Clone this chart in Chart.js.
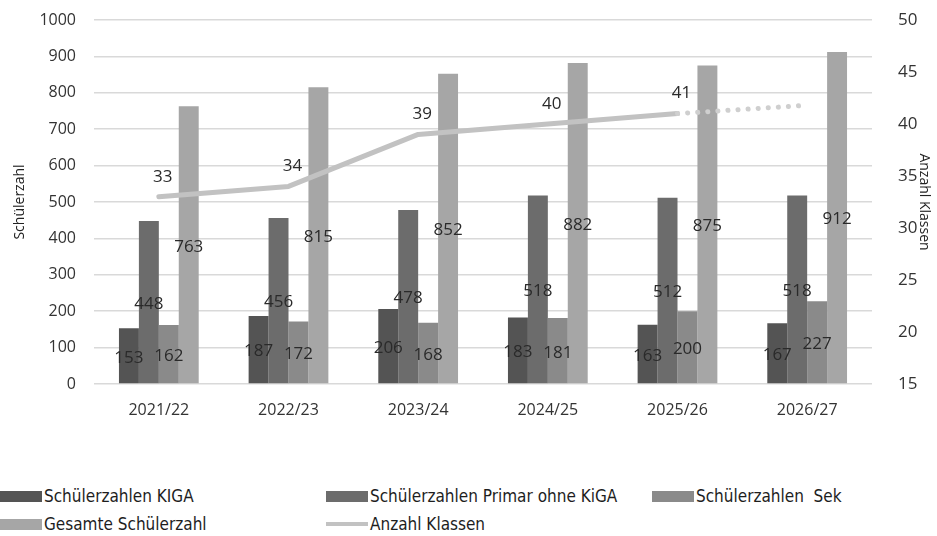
<!DOCTYPE html>
<html>
<head>
<meta charset="utf-8">
<script src="https://cdn.jsdelivr.net/npm/chart.js@4/dist/chart.umd.min.js"></script>
<style>
  body { margin: 0; background: #fff; }
  #wrap { position: relative; width: 937px; height: 536px; }
  #chart { position: absolute; left: 0; top: 0; }
  #legend { position: absolute; left: 0; top: 486px; width: 937px; height: 50px;
    font-family: "DejaVu Sans Condensed", "Liberation Sans Narrow", "DejaVu Sans", sans-serif;
    font-stretch: condensed; font-size: 17px; color: #1e1e1e; }
  .item { position: absolute; display: flex; align-items: center; white-space: nowrap; }
  .mark { width: 42px; height: 11px; margin-right: 2px; }
  .mark.line { height: 4px; }
</style>
</head>
<body>
<div id="wrap">
  <canvas id="chart" width="937" height="440"></canvas>
  <div id="legend"></div>
</div>
<script>
// Schuljahre
const years = ["2021/22", "2022/23", "2023/24", "2024/25", "2025/26", "2026/27"];
const kiga = [153, 187, 206, 183, 163, 167];
const primar = [448, 456, 478, 518, 512, 518];
const sek = [162, 172, 168, 181, 200, 227];
const gesamt = [763, 815, 852, 882, 875, 912];
const klassen = [33, 34, 39, 40, 41, 41.8];
const klassenLabels = ["33", "34", "39", "40", "41", ""];

const studentTicks = [0, 100, 200, 300, 400, 500, 600, 700, 800, 900, 1000];
const classTicks = [15, 20, 25, 30, 35, 40, 45, 50];

const colors = ["#545454", "#6c6c6c", "#8a8a8a", "#a6a6a6", "#c2c2c2"];
const names = ["Schülerzahlen KIGA", "Schülerzahlen Primar ohne KiGA", "Schülerzahlen  Sek",
  "Gesamte Schülerzahl", "Anzahl Klassen"];

// draw the value labels ourselves (no datalabels plugin offline)
const valueLabels = {
  id: 'valueLabels',
  afterDatasetsDraw(chart) {
    const ctx = chart.ctx;
    ctx.save();
    ctx.font = '17px "Open Sans", sans-serif';
    ctx.fillStyle = '#2a2a2a';
    ctx.textAlign = 'center';
    ctx.textBaseline = 'middle';
    chart.data.datasets.forEach((ds, i) => {
      const meta = chart.getDatasetMeta(i);
      meta.data.forEach((el, j) => {
        if (ds.type === 'line') {
          const txt = klassenLabels[j];
          if (txt) ctx.fillText(txt, el.x + 4, el.y - 20);
        } else {
          ctx.fillText(String(ds.data[j]), el.x, (el.y + el.base) / 2 + 2);
        }
      });
    });
    ctx.restore();
  }
};

const barSet = (label, data, color) => ({
  type: 'bar', label: label, data: data, backgroundColor: color,
  yAxisID: 'y', categoryPercentage: 0.615, barPercentage: 1.0, order: 2
});

const fitSide = w => s => { s.width = w; s.paddingTop = 0; s.paddingBottom = 0; };

const chart = new Chart(document.getElementById('chart'), {
  data: {
    labels: years,
    datasets: [
      barSet(names[0], kiga, colors[0]),
      barSet(names[1], primar, colors[1]),
      barSet(names[2], sek, colors[2]),
      barSet(names[3], gesamt, colors[3]),
      {
        type: 'line', label: names[4], data: klassen, yAxisID: 'y1',
        borderColor: colors[4], borderWidth: 5, pointRadius: 0, tension: 0,
        borderCapStyle: 'round', borderJoinStyle: 'round', order: 1,
        segment: {
          borderDash: c => c.p1DataIndex === 5 ? [0.1, 10] : undefined,
          borderColor: c => c.p1DataIndex === 5 ? '#cfcfcf' : undefined
        }
      }
    ]
  },
  options: {
    responsive: false,
    animation: false,
    layout: { padding: { top: 20 } },
    plugins: { legend: { display: false }, tooltip: { enabled: false } },
    scales: {
      x: {
        grid: { display: false },
        border: { display: false },
        ticks: { font: { family: 'Open Sans', size: 16 }, color: '#333', padding: 9 },
        afterFit: s => { s.height = 56; s.paddingLeft = 0; s.paddingRight = 0; }
      },
      y: {
        position: 'left', min: 0, max: 1000,
        afterBuildTicks: s => { s.ticks = studentTicks.map(v => ({ value: v })); },
        grid: { color: '#d9d9d9', lineWidth: 1.5, drawTicks: false },
        border: { display: false },
        ticks: { font: { family: 'Open Sans', size: 16 }, color: '#333', padding: 18,
          callback: v => String(v) },
        title: { display: true, text: 'Schülerzahl', font: { family: 'Open Sans', size: 14 },
          color: '#222', padding: { top: 12, bottom: 0 } },
        afterFit: fitSide(94)
      },
      y1: {
        position: 'right', min: 15, max: 50,
        afterBuildTicks: s => { s.ticks = classTicks.map(v => ({ value: v })); },
        grid: { display: false },
        border: { display: false },
        ticks: { font: { family: 'Open Sans', size: 17 }, color: '#333', padding: 18 },
        title: { display: true, text: 'Anzahl Klassen', font: { family: 'Open Sans', size: 14 },
          color: '#222', padding: { top: 5, bottom: 0 } },
        afterFit: fitSide(65)
      }
    }
  },
  plugins: [valueLabels]
});

// legend in the same two-row layout as the original
const legendPos = [[0, 0], [326, 0], [652, 0], [0, 28], [326, 28]];
const legend = document.getElementById('legend');
chart.data.datasets.forEach((ds, i) => {
  const item = document.createElement('div');
  item.className = 'item';
  item.style.left = legendPos[i][0] + 'px';
  item.style.top = legendPos[i][1] + 'px';
  const mark = document.createElement('span');
  mark.className = ds.type === 'line' ? 'mark line' : 'mark';
  mark.style.background = ds.type === 'line' ? ds.borderColor : ds.backgroundColor;
  const txt = document.createElement('span');
  txt.textContent = ds.label;
  txt.style.whiteSpace = 'pre';
  item.appendChild(mark);
  item.appendChild(txt);
  legend.appendChild(item);
});
</script>
</body>
</html>
